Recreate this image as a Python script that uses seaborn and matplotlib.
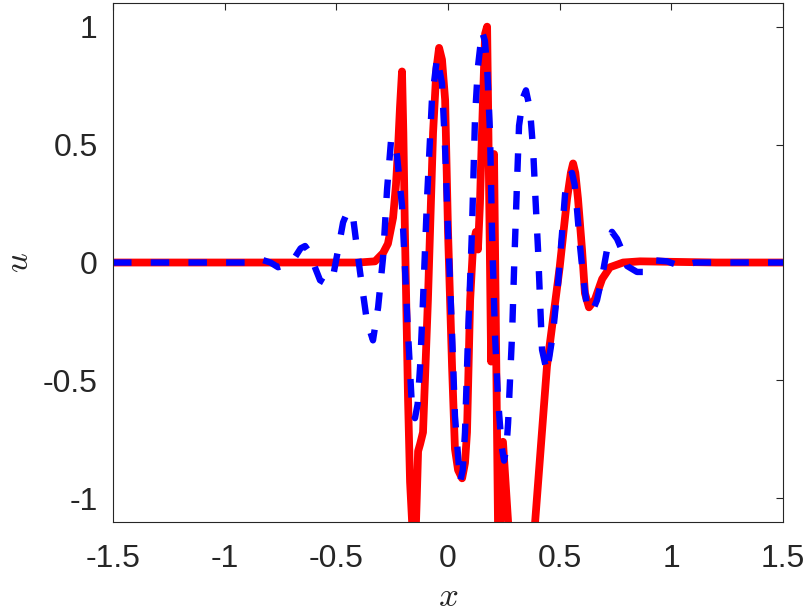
import matplotlib
matplotlib.use('Agg')
import matplotlib.pyplot as plt
import numpy as np
import pandas as pd
import seaborn as sns

# red solid curve (the dips below -1.1 are clipped)
red_x = [-1.5, -0.8, -0.4, -0.327, -0.291, -0.269, -0.246, -0.233, -0.224, -0.215,
         -0.206, -0.200, -0.193, -0.179, -0.170, -0.150, -0.140, -0.134, -0.125, -0.112,
         -0.090, -0.067, -0.052, -0.040, -0.027, -0.013, 0.0, 0.018, 0.031, 0.045,
         0.063, 0.076, 0.085, 0.099, 0.112, 0.125, 0.134, 0.143, 0.152, 0.166,
         0.175, 0.179, 0.193, 0.206, 0.226, 0.246, 0.269, 0.33, 0.39, 0.443,
         0.50, 0.533, 0.550, 0.560, 0.570, 0.582, 0.600, 0.613, 0.631, 0.658,
         0.690, 0.725, 0.784, 0.86, 1.2, 1.5]
red_u = [0.0, 0.0, 0.0, 0.005, 0.04, 0.08, 0.19, 0.33, 0.48, 0.66,
         0.81, 0.55, 0.13, -0.58, -0.93, -1.3, -1.0, -0.80, -0.77, -0.72,
         -0.16, 0.55, 0.82, 0.91, 0.86, 0.69, 0.13, -0.44, -0.79, -0.88,
         -0.915, -0.85, -0.72, -0.16, 0.07, 0.13, 0.055, 0.25, 0.55, 0.97,
         1.0, 0.7, -0.42, 0.46, -1.3, -0.76, -1.1, -2.0, -1.1, -0.44,
         -0.02, 0.27, 0.38, 0.42, 0.38, 0.27, 0.055, -0.13, -0.19, -0.156,
         -0.07, -0.02, 0.0, 0.005, 0.0, 0.0]

# blue dashed curve
blue_x = [-1.5, -0.85, -0.828, -0.795, -0.761, -0.728, -0.694, -0.660, -0.640, -0.618,
          -0.596, -0.573, -0.546, -0.519, -0.493, -0.470, -0.448, -0.425, -0.394, -0.363,
          -0.336, -0.313, -0.291, -0.273, -0.255, -0.240, -0.228, -0.206, -0.193, -0.179,
          -0.161, -0.148, -0.136, -0.125, -0.112, -0.094, -0.072, -0.049, -0.027, -0.013,
          0.0, 0.018, 0.031, 0.054, 0.066, 0.076, 0.090, 0.107, 0.121, 0.134,
          0.152, 0.165, 0.175, 0.188, 0.197, 0.210, 0.224, 0.240, 0.251, 0.262,
          0.269, 0.287, 0.296, 0.309, 0.318, 0.336, 0.349, 0.367, 0.381, 0.390,
          0.403, 0.412, 0.421, 0.443, 0.470, 0.493, 0.511, 0.524, 0.537, 0.555,
          0.567, 0.578, 0.591, 0.605, 0.622, 0.645, 0.667, 0.690, 0.712, 0.734,
          0.757, 0.784, 0.802, 0.846, 0.873, 0.914, 0.981, 1.039, 1.106, 1.5]
blue_u = [0.0, 0.0, 0.01, 0.0, -0.02, -0.01, 0.01, 0.06, 0.07, 0.04,
          -0.02, -0.075, -0.09, -0.08, 0.05, 0.17, 0.22, 0.19, -0.04, -0.25,
          -0.33, -0.19, 0.02, 0.31, 0.52, 0.52, 0.45, 0.24, -0.02, -0.30,
          -0.62, -0.66, -0.60, -0.44, -0.16, 0.27, 0.69, 0.87, 0.76, 0.48,
          0.13, -0.30, -0.65, -0.93, -0.88, -0.72, -0.30, 0.13, 0.62, 0.83,
          0.98, 0.94, 0.83, 0.55, 0.13, -0.30, -0.58, -0.78, -0.84, -0.78,
          -0.68, -0.30, -0.02, 0.34, 0.58, 0.70, 0.73, 0.65, 0.48, 0.30,
          0.055, -0.16, -0.37, -0.465, -0.30, -0.085, 0.13, 0.29, 0.36, 0.38,
          0.33, 0.22, 0.07, -0.06, -0.19, -0.21, -0.16, -0.06, 0.055, 0.13,
          0.10, 0.04, -0.015, -0.04, -0.04, 0.01, 0.005, -0.015, 0.0, 0.0]

x_ticks = [-1.5, -1, -0.5, 0, 0.5, 1, 1.5]
x_tick_labels = ['-1.5', '-1', '-0.5', '0', '0.5', '1', '1.5']
y_ticks = [-1, -0.5, 0, 0.5, 1]
y_tick_labels = ['-1', '-0.5', '0', '0.5', '1']

sns.set_style('white')
plt.rcParams['font.family'] = ['Liberation Sans', 'DejaVu Sans']
plt.rcParams['mathtext.fontset'] = 'cm'

fig = plt.figure(figsize=(8.05, 6.13), dpi=100)
ax = fig.add_axes([0.1404, 0.1485, 0.8323, 0.8465])

red_df = pd.DataFrame({'x': red_x, 'u': red_u})
blue_df = pd.DataFrame({'x': blue_x, 'u': blue_u})
sns.lineplot(data=red_df, x='x', y='u', ax=ax, color='#ff0000', linewidth=5.6,
             estimator=None, sort=False)
sns.lineplot(data=blue_df, x='x', y='u', ax=ax, color='#0000ff', linewidth=4.6,
             estimator=None, sort=False, linestyle=(0, (2.9, 3.0)))

ax.set_xlim(-1.5, 1.5)
ax.set_ylim(-1.1, 1.1)
ax.set_xticks(x_ticks)
ax.set_xticklabels(x_tick_labels)
ax.set_yticks(y_ticks)
ax.set_yticklabels(y_tick_labels)
ax.tick_params(direction='in', length=5, width=0.8, colors='#262626',
               labelsize=23, top=True, right=True)
ax.tick_params(axis='x', pad=16)
ax.tick_params(axis='y', pad=11)
for s in ax.spines.values():
    s.set_color('#262626')
    s.set_linewidth(0.8)

ax.set_xlabel('$x$', fontsize=25, labelpad=4)
ax.set_ylabel('$u$', fontsize=25, labelpad=6)

fig.savefig('out.png', dpi=100)
